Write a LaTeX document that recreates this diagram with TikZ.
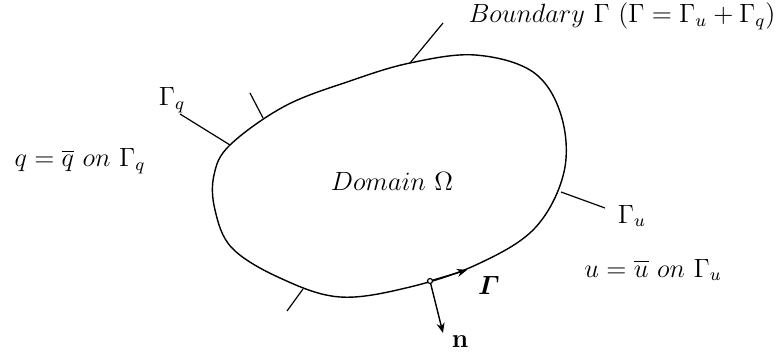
\documentclass[tikz,border=0pt]{standalone}
\usepackage{amsmath}
\usetikzlibrary{arrows.meta}
\begin{document}
\begin{tikzpicture}[x=0.5pt,y=-0.5pt,
  lab/.style={inner sep=0pt,scale=1.1,font=\fontsize{12}{14}\selectfont},
  tick/.style={line width=0.6pt},
  vec/.style={line width=0.7pt,-{Stealth[length=5pt,width=4pt]}}]
\useasboundingbox (0,0) rectangle (781,356);
% domain outline
\draw[line width=0.7pt] plot[smooth cycle,tension=0.6] coordinates {
 (230,145) (285,106) (350,81) (410,63) (475,55) (533,72)
 (561,115) (564,172) (535,228) (478,264) (410,287)
 (340,297) (280,278) (232,248) (215,210) (214,175)};
% points on boundary
\coordinate (pq) at (230,145);
\coordinate (pt1) at (263,118);
\coordinate (pb) at (410,63);
\coordinate (pu) at (561,192);
\coordinate (pt2) at (303,289);
\coordinate (p0) at (430,281);
% free ends
\coordinate (eq) at (180,114);
\coordinate (et1) at (250,93);
\coordinate (eb) at (443,23);
\coordinate (eu) at (605,208);
\coordinate (et2) at (287,311);
\coordinate (eg) at (467,270);
\coordinate (en) at (443,333);
\draw[tick] (pq) -- (eq);
\draw[tick] (pt1) -- (et1);
\draw[tick] (pb) -- (eb);
\draw[tick] (pu) -- (eu);
\draw[tick] (pt2) -- (et2);
\draw[vec] (p0) -- (eg);
\draw[vec] (p0) -- (en);
\draw[line width=0.6pt,fill=white] (p0) circle (2.5);
% labels
\node[lab] (bnd) at (622,16) {$Boundary\ \Gamma\ (\Gamma=\Gamma_u+\Gamma_q)$};
\node[lab] (gq) at (172,100) {$\Gamma_q$};
\node[lab] (qeq) at (80,161) {$q=\overline{q}\ on\ \Gamma_q$};
\node[lab] (dom) at (392,181) {$Domain\ \Omega$};
\node[lab] (gu) at (632,216) {$\Gamma_u$};
\node[lab] (ueq) at (653,270) {$u=\overline{u}\ on\ \Gamma_u$};
\node[lab] (gam) at (489,285) {$\boldsymbol{\varGamma}$};
\node[lab] (nn) at (460,342) {$\mathbf{n}$};
\end{tikzpicture}
\end{document}
